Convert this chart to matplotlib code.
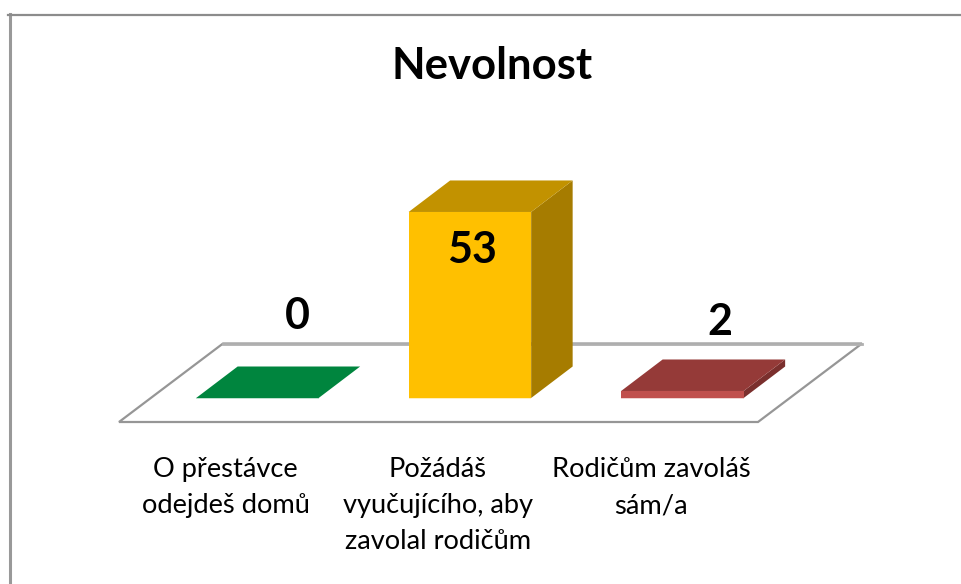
import matplotlib
matplotlib.use('Agg')
import matplotlib.pyplot as plt
from matplotlib.patches import Polygon

plt.rcParams['font.family'] = ['Lato', 'DejaVu Sans']

title = 'Nevolnost'
categories = ['O přestávce\nodejdeš domů',
              'Požádáš\nvyučujícího, aby\nzavolal rodičům',
              'Rodičům zavoláš\nsám/a']
values = [0, 53, 2]
front_colors = ['#00853E', '#FFC000', '#C0504D']
top_colors = ['#00853E', '#C29200', '#953A38']
side_colors = ['#006B32', '#A67C00', '#7A2F2D']

W, H = 961, 584
X0, DX = 257.4, 212.5   # pixel of first category, pixels per category
Y0, DY = 398, 3.51      # pixel of value 0, pixels per unit

fig = plt.figure(figsize=(W / 100, H / 100), dpi=100)
ax = fig.add_axes([0, 0, 1, 1])
ax.set_xlim(-X0 / DX, (W - X0) / DX)
ax.set_ylim((Y0 - H) / DY, Y0 / DY)
ax.axis('off')

# depth of the bars and of the floor, in data units
bar_w = 122.5 / DX
depth_x = 41.5 / DX
depth_y = 31.5 / DY

# floor
fx0 = (119 - X0) / DX
fx1 = (758 - X0) / DX
fy = (Y0 - 422) / DY
fdx = 104 / DX
fdy = 78.5 / DY
floor = Polygon([(fx0, fy), (fx1, fy), (fx1 + fdx, fy + fdy), (fx0 + fdx, fy + fdy)],
                closed=True, fc='white', ec='#969696', lw=1.6, zorder=1)
ax.add_patch(floor)
ax.plot([fx0 + fdx, fx1 + fdx], [fy + fdy, fy + fdy], color='#B0B0B0', lw=2, zorder=1.5)

for i, v in enumerate(values):
    l = i - bar_w / 2
    r = i + bar_w / 2
    ax.add_patch(Polygon([(l, -0.3), (r, -0.3), (r, 0), (l, 0)], fc=front_colors[i],
                         alpha=0.25, lw=0, zorder=2))
    ax.add_patch(Polygon([(r, 0), (r + depth_x, depth_y), (r + depth_x, depth_y + v), (r, v)],
                         fc=side_colors[i], lw=0, zorder=3))
    ax.add_patch(Polygon([(l, v), (r, v), (r + depth_x, v + depth_y), (l + depth_x, v + depth_y)],
                         fc=top_colors[i], lw=0, zorder=3))
    ax.bar(i, v, width=bar_w, color=front_colors[i], lw=0, zorder=4)

# value labels sit at hand-read spots, chart places them by its own rules
label_px = [(297, 329), (472, 263), (720, 335)]
for (px, py), v in zip(label_px, values):
    ax.text((px - X0) / DX, (Y0 - py) / DY, str(v), ha='center', va='baseline',
            fontsize=31, fontweight='bold', color='black', zorder=6)

# category labels
cat_px = [(225.5, 457), (438, 457), (651, 457)]
for (px, py), c in zip(cat_px, categories):
    ax.text((px - X0) / DX, (Y0 - py) / DY, c, ha='center', va='top',
            fontsize=19.6, color='black', linespacing=1.56, zorder=6)

ax.text((492.5 - X0) / DX, (Y0 - 79) / DY, title, ha='center', va='baseline',
        fontsize=31.4, fontweight='bold', color='black', zorder=6)

# chart frame, only top and left show in the picture
fig.add_artist(plt.Line2D([9.5 / W, 9.5 / W], [0, 1 - 14 / H], color='#999999', lw=2.2))
fig.add_artist(plt.Line2D([8 / W, 1], [1 - 15 / H, 1 - 15 / H], color='#8C8C8C', lw=1.6))

fig.savefig('out.png', dpi=100, facecolor='white')
